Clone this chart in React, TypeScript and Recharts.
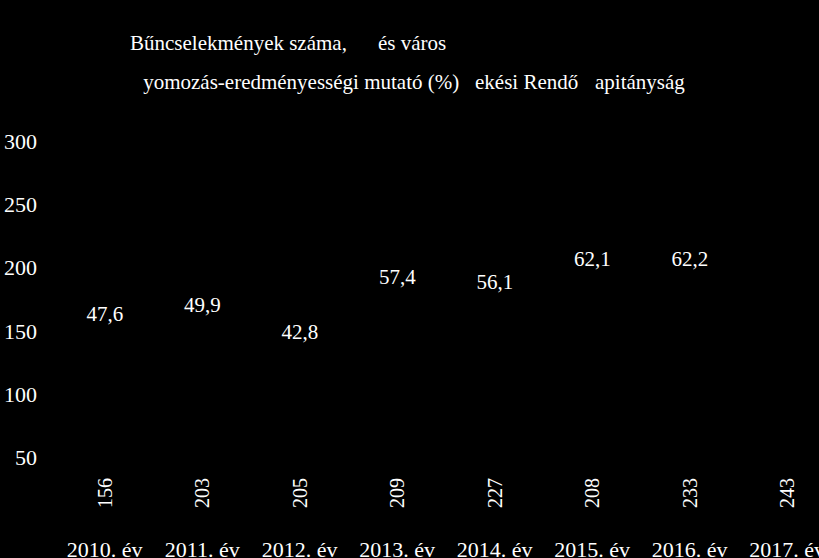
import React from 'react';
import { ComposedChart, Bar, Line, XAxis, YAxis, LabelList, Legend } from 'recharts';

const categories = ['2010. év', '2011. év', '2012. év', '2013. év', '2014. év', '2015. év', '2016. év', '2017. év'];
const crimeCounts = [156, 203, 205, 209, 227, 208, 233, 243];
const clearanceRates: (number | null)[] = [47.6, 49.9, 42.8, 57.4, 56.1, 62.1, 62.2, null];
const leftTicks = [50, 100, 150, 200, 250, 300];

const data = categories.map((c, i) => ({ year: c, count: crimeCounts[i], rate: clearanceRates[i] }));

const FONT = '"Liberation Serif", "DejaVu Serif", serif';
const W = 845;
const H = 558;

const getBox = (p: any) => {
  const vb = p.viewBox || {};
  return {
    x: p.x ?? vb.x,
    y: p.y ?? vb.y,
    width: p.width ?? vb.width ?? 0,
    height: p.height ?? vb.height ?? 0,
  };
};

const BarValueLabel = (p: any) => {
  if (p.value == null) return null;
  const b = getBox(p);
  const cx = b.x + b.width / 2;
  const cy = b.y + b.height - 28;
  return (
    <text x={cx} y={cy} transform={`rotate(-90, ${cx}, ${cy})`} textAnchor="middle" dominantBaseline="central"
      fill="#fff" fontFamily={FONT} fontSize={20}>
      {String(p.value)}
    </text>
  );
};

const RateLabel = (p: any) => {
  if (p.value == null) return null;
  const b = getBox(p);
  if (b.x == null || b.y == null || isNaN(b.y)) return null;
  return (
    <text x={b.x} y={b.y - 26} textAnchor="middle" dominantBaseline="central" fill="#fff" fontFamily={FONT} fontSize={21}>
      {String(p.value).replace('.', ',')}
    </text>
  );
};

const LegendContent = () => (
  <svg width={W} height={110} style={{ display: 'block' }}>
    <text x={130} y={50} fill="#fff" fontFamily={FONT} fontSize={21}>
      Bűncselekmények száma,
      <tspan x={378}>és város</tspan>
    </text>
    <text x={128} y={89} fill="#fff" fontFamily={FONT} fontSize={21}>
      <tspan fill="#000">N</tspan>yomozás-eredményességi mutató (%)
      <tspan x={461} fill="#000">B</tspan>
      <tspan x={475}>ekési Rendő</tspan>
      <tspan fill="#000">rk</tspan>
      <tspan x={595}>apitányság</tspan>
    </text>
  </svg>
);

export default function App() {
  return (
    <div style={{ position: 'absolute', left: 0, top: 0, width: 819, height: 558, overflow: 'hidden', background: '#000' }}>
      <ComposedChart width={W} height={H} data={data} margin={{ top: 141, right: 9, bottom: 0, left: 0 }}>
        <XAxis dataKey="year" height={37} axisLine={false} tickLine={false} tickSize={6} tickMargin={14}
          interval={0} tick={{ fill: '#fff', fontFamily: FONT, fontSize: 22 }} />
        <YAxis yAxisId="left" width={56} domain={[0, 300]} ticks={leftTicks} axisLine={false} tickLine={false}
          tickSize={6} tickMargin={13} tick={{ fill: '#fff', fontFamily: FONT, fontSize: 22 }} />
        <YAxis yAxisId="right" orientation="right" domain={[0, 100]} hide />
        <Legend verticalAlign="middle" align="center" content={LegendContent}
          wrapperStyle={{ position: 'absolute', top: 0, left: 0, width: W, height: 110, margin: 0 }} />
        <Bar yAxisId="left" dataKey="count" name="Bűncselekmények száma" fill="#000" isAnimationActive={false}>
          <LabelList dataKey="count" content={BarValueLabel} />
        </Bar>
        <Line yAxisId="right" dataKey="rate" name="Nyomozás-eredményességi mutató (%)" stroke="#000" dot={false}
          isAnimationActive={false} connectNulls={false}>
          <LabelList dataKey="rate" content={RateLabel} />
        </Line>
      </ComposedChart>
    </div>
  );
}
